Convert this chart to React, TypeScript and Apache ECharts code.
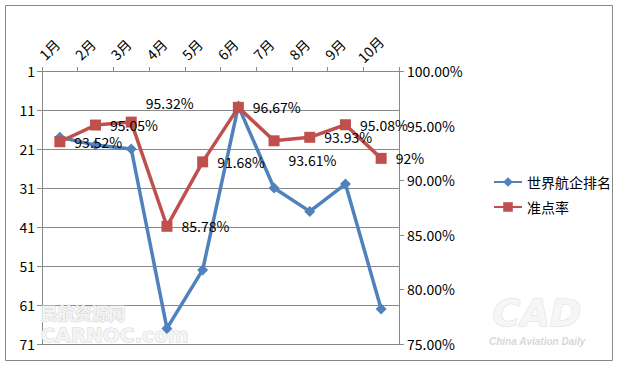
import React, { useEffect, useRef } from "react";
import * as echarts from "echarts";

const months = ["1月", "2月", "3月", "4月", "5月", "6月", "7月", "8月", "9月", "10月"];
const rankName = "世界航企排名";
const rateName = "准点率";
const rankValues = [18, 20, 21, 67, 52, 10, 31, 37, 30, 62];
const rateValues = [93.52, 95.05, 95.32, 85.78, 91.68, 96.67, 93.61, 93.93, 95.08, 92];
const rankAxis = { min: 1, max: 71, interval: 10 };
const rateAxis = { min: 75, max: 100, interval: 5 };

const FONT = "'Noto Sans CJK SC', 'Noto Sans', sans-serif";
const GRAY = "#888888";
const BLUE = "#4F81BD";
const RED = "#C0504D";

// label vertical nudges (style only)
const labelNudge: Record<number, number> = { 2: -19, 6: 19 };

export default function App() {
  const ref = useRef<HTMLDivElement>(null);
  useEffect(() => {
    if (!ref.current) return;
    const chart = echarts.init(ref.current, undefined, { renderer: "svg" });
    const rateData = rateValues.map((v, i) =>
      labelNudge[i] !== undefined
        ? { value: v, label: { offset: [0, labelNudge[i]] } }
        : v
    );
    chart.setOption({
      animation: false,
      backgroundColor: "#ffffff",
      textStyle: { fontFamily: FONT },
      grid: { left: 42, right: 221, top: 71, bottom: 22, containLabel: false },
      legend: {
        orient: "vertical",
        left: 488,
        top: 170,
        itemWidth: 28,
        itemHeight: 12,
        itemGap: 11,
        textStyle: { fontFamily: FONT, fontSize: 14, color: "#000" },
        data: [rankName, rateName],
      },
      xAxis: {
        type: "category",
        position: "top",
        data: months,
        boundaryGap: true,
        axisLine: { lineStyle: { color: GRAY, width: 1 } },
        axisTick: { show: true, length: 4, lineStyle: { color: GRAY } },
        splitLine: { show: false },
        axisLabel: {
          interval: 0,
          rotate: -45,
          margin: 11,
          align: "center",
          verticalAlign: "bottom",
          padding: [0, 0, 8, 0],
          fontSize: 14,
          fontFamily: FONT,
          color: "#000",
        },
      },
      yAxis: [
        {
          type: "value",
          inverse: true,
          min: rankAxis.min,
          max: rankAxis.max,
          interval: rankAxis.interval,
          axisLine: { show: true, lineStyle: { color: GRAY } },
          axisTick: { show: true, length: 5, lineStyle: { color: GRAY } },
          splitLine: { show: true, lineStyle: { color: GRAY, width: 1 } },
          axisLabel: { fontSize: 14, fontFamily: FONT, color: "#000", margin: 7 },
        },
        {
          type: "value",
          position: "right",
          min: rateAxis.min,
          max: rateAxis.max,
          interval: rateAxis.interval,
          axisLine: { show: true, lineStyle: { color: GRAY } },
          axisTick: { show: true, length: 5, lineStyle: { color: GRAY } },
          splitLine: { show: false },
          axisLabel: {
            fontSize: 14,
            fontFamily: FONT,
            color: "#000",
            margin: 8,
            formatter: (v: number) => v.toFixed(2) + "%",
          },
        },
      ],
      series: [
        {
          name: rankName,
          type: "line",
          yAxisIndex: 0,
          data: rankValues,
          symbol: "diamond",
          symbolSize: 11,
          lineStyle: { color: BLUE, width: 3.5 },
          itemStyle: { color: BLUE },
          z: 2,
        },
        {
          name: rateName,
          type: "line",
          yAxisIndex: 1,
          data: rateData,
          symbol: "rect",
          symbolSize: 11,
          lineStyle: { color: RED, width: 3.5 },
          itemStyle: { color: RED },
          z: 3,
          label: {
            show: true,
            position: "right",
            distance: 9,
            fontSize: 14,
            fontFamily: FONT,
            color: "#000",
            formatter: (p: any) => p.value + "%",
          },
        },
      ],
      graphic: [
        {
          type: "rect",
          shape: { x: 5.5, y: 5.5, width: 607, height: 355 },
          style: { fill: "none", stroke: GRAY, lineWidth: 1 },
          silent: true,
        },
        {
          type: "text",
          left: 40,
          top: 303,
          style: {
            text: "民航资源网",
            font: "bold 17px 'Noto Sans CJK SC'",
            fill: "#f4f4f4",
            stroke: "#d4d4d4",
            lineWidth: 1,
          },
          silent: true,
          z: 1,
        },
        {
          type: "text",
          left: 40,
          top: 324,
          style: {
            text: "CARNOC.com",
            font: "bold 20px 'DejaVu Sans'",
            fill: "#f4f4f4",
            stroke: "#d4d4d4",
            lineWidth: 1,
          },
          silent: true,
          z: 1,
        },
        {
          type: "text",
          left: 492,
          top: 293,
          style: {
            text: "CAD",
            font: "italic bold 38px 'DejaVu Sans'",
            fill: "#f6f6f6",
            stroke: "#dddddd",
            lineWidth: 1,
          },
          silent: true,
          z: 1,
        },
        {
          type: "text",
          left: 489,
          top: 336,
          style: {
            text: "China Aviation Daily",
            font: "italic bold 10px 'Liberation Sans'",
            fill: "#d8d8d8",
          },
          silent: true,
          z: 1,
        },
      ],
    });
    return () => chart.dispose();
  }, []);
  return (
    <div
      ref={ref}
      style={{ position: "absolute", left: 0, top: 0, width: 620, height: 366 }}
    />
  );
}
